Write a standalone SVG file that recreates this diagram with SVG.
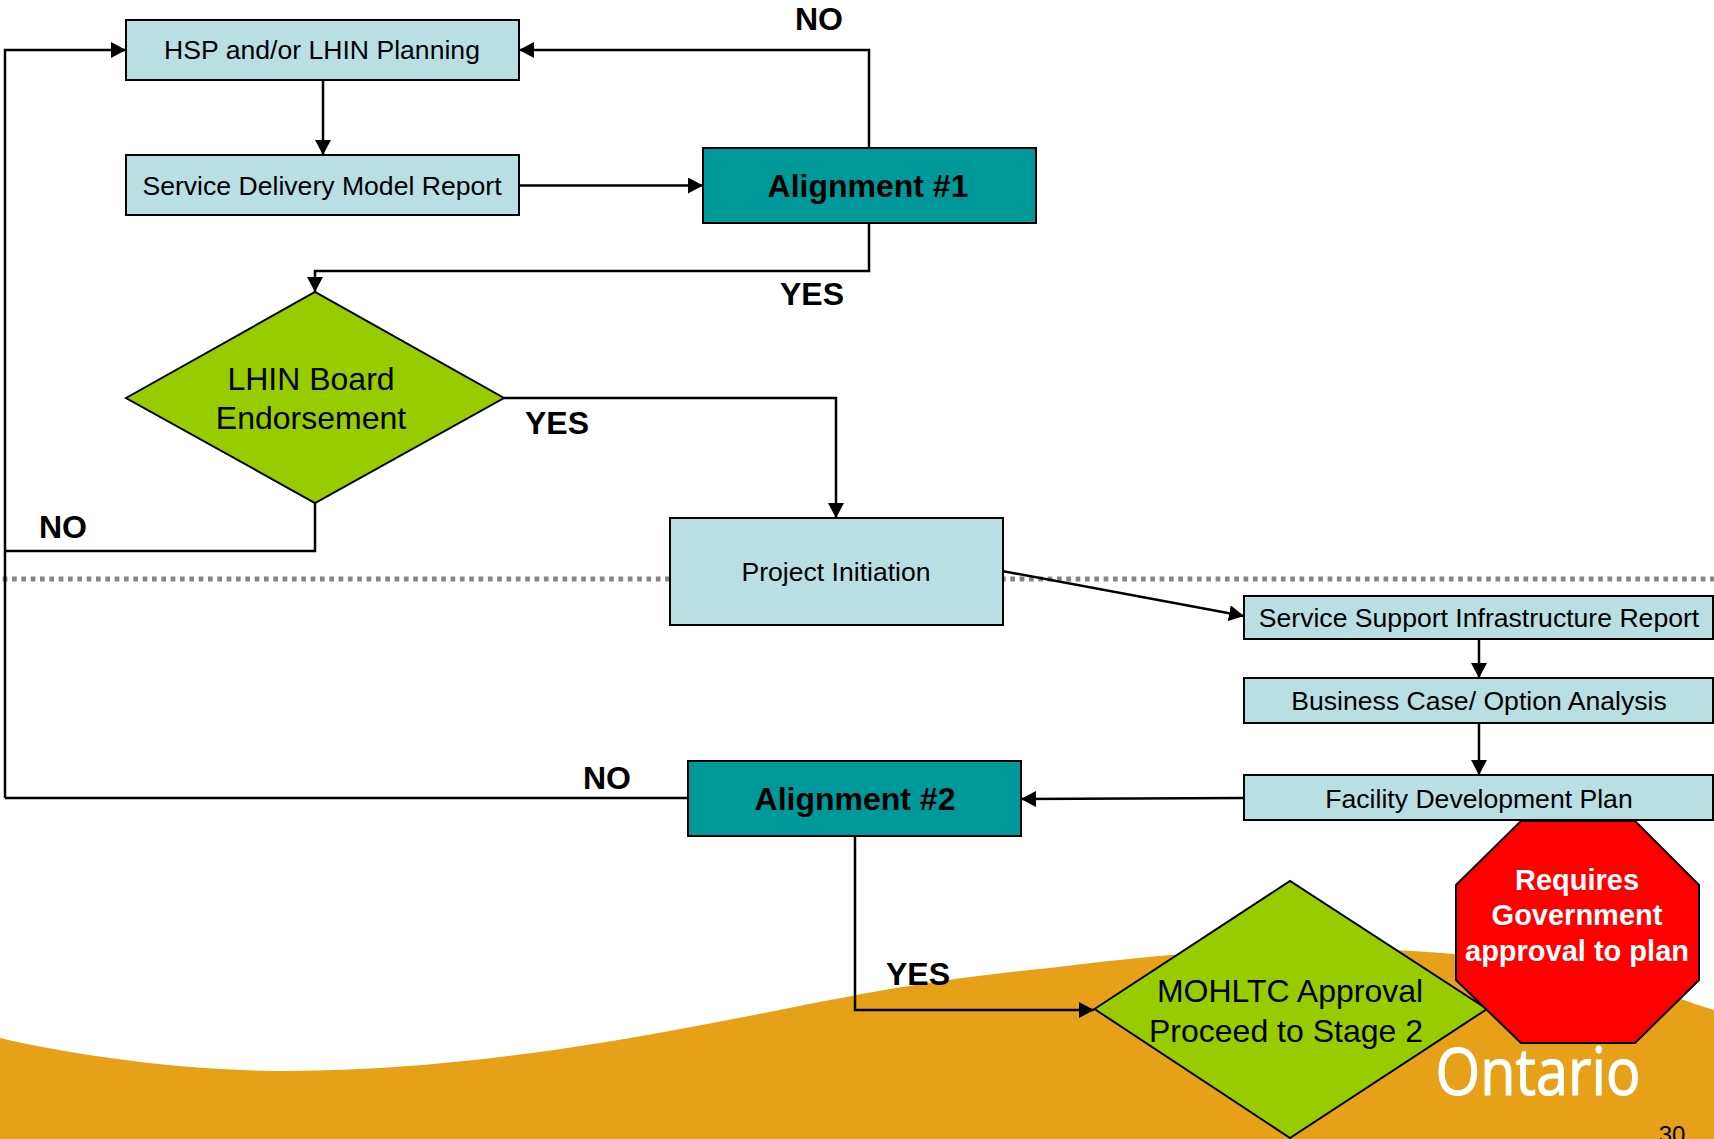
<svg xmlns="http://www.w3.org/2000/svg" width="1714" height="1139" viewBox="0 0 1714 1139">
<style>
text{font-family:"Liberation Sans",Arial,sans-serif;fill:#000}
.t{text-anchor:middle}
.box{fill:#b9dfe3;stroke:#000;stroke-width:2}
.al{fill:#009999;stroke:#000;stroke-width:2}
.dia{fill:#99cc00;stroke:#000;stroke-width:2}
.s{font-size:26.600px}
.b{font-size:32px;font-weight:700}
.d{font-size:32px}
.l{font-size:32px;font-weight:700}
.c{fill:none;stroke:#000;stroke-width:2.5}
</style>
<defs><marker id="a" markerUnits="userSpaceOnUse" markerWidth="16" markerHeight="16" refX="15" refY="8" orient="auto"><path d="M0 0L15 8L0 16Z" fill="#000"/></marker></defs>
<rect width="1714" height="1139" fill="#fff"/>
<path id="wave" d="M0 1038C60 1052 170 1071 290 1071C420 1071 560 1052 702 1025C800 1007 900 982 1050 968C1130 958 1200 951 1280 949C1400 946 1500 955 1600 975C1650 985 1680 1000 1714 1010V1139H0Z" fill="#e6a118"/>
<line id="divider" x1="2.700" y1="579" x2="1714" y2="579" stroke="#858585" stroke-width="5" stroke-dasharray="4.700 4.630"/>
<text x="1538" y="1095" font-size="66" class="t" textLength="205" lengthAdjust="spacingAndGlyphs" style="font-family:'Open Sans',sans-serif;fill:#fff;stroke:#fff;stroke-width:1.200">Ontario</text>
<text x="1672" y="1143" font-size="24" class="t">30</text>
<g id="connectors">
<path class="c" d="M323 80V155" marker-end="url(#a)"/>
<path class="c" d="M519 185.500H703" marker-end="url(#a)"/>
<path class="c" d="M869 148V50H519" marker-end="url(#a)"/>
<path class="c" d="M869 223V271H315V292" marker-end="url(#a)"/>
<path class="c" d="M504 398H836V518" marker-end="url(#a)"/>
<path class="c" d="M315 503V551H5"/>
<path class="c" d="M5 798V50H126" marker-end="url(#a)"/>
<path class="c" d="M1002 571L1244 616" marker-end="url(#a)"/>
<path class="c" d="M1479 639V678" marker-end="url(#a)"/>
<path class="c" d="M1479 723V775" marker-end="url(#a)"/>
<path class="c" d="M1244 798L1021 799" marker-end="url(#a)"/>
<path class="c" d="M688 798H5"/>
<path class="c" d="M855 836V1010H1094" marker-end="url(#a)"/>
</g>
<g id="hsp"><rect class="box" x="126" y="20" width="393" height="60"/><text class="t s" x="322" y="59">HSP and/or LHIN Planning</text></g>
<g id="sdm"><rect class="box" x="126" y="155" width="393" height="60"/><text class="t s" x="322" y="195">Service Delivery Model Report</text></g>
<g id="al1"><rect class="al" x="703" y="148" width="333" height="75"/><text class="t b" x="868" y="197">Alignment #1</text></g>
<g id="lhin"><polygon class="dia" points="126,398 315,292 504,398 315,503"/><text class="t d" x="311" y="390">LHIN Board</text><text class="t d" x="311" y="429">Endorsement</text></g>
<g id="pi"><rect class="box" x="670" y="518" width="333" height="107"/><text class="t s" x="836" y="581">Project Initiation</text></g>
<g id="ssi"><rect class="box" x="1244" y="596" width="469" height="43"/><text class="t s" x="1479" y="627">Service Support Infrastructure Report</text></g>
<g id="bc"><rect class="box" x="1244" y="678" width="469" height="45"/><text class="t s" x="1479" y="710">Business Case/ Option Analysis</text></g>
<g id="fdp"><rect class="box" x="1244" y="775" width="469" height="45"/><text class="t s" x="1479" y="808">Facility Development Plan</text></g>
<g id="al2"><rect class="al" x="688" y="761" width="333" height="75"/><text class="t b" x="855" y="810">Alignment #2</text></g>
<g id="mohltc"><polygon class="dia" points="1094.500,1009 1290,881 1487,1009 1290,1138"/><text class="t d" x="1290" y="1002">MOHLTC Approval</text><text class="t d" x="1286" y="1042">Proceed to Stage 2</text></g>
<g id="stop"><polygon fill="#ff0000" stroke="#000" stroke-width="2" points="1521,821 1635,821 1699,885 1699,980 1635,1043 1521,1043 1456,980 1456,885"/><text class="t" x="1577" y="890" font-size="29" font-weight="700" style="fill:#fff">Requires</text><text class="t" x="1577" y="925" font-size="29" font-weight="700" style="fill:#fff">Government</text><text class="t" x="1577" y="961" font-size="29" font-weight="700" style="fill:#fff">approval to plan</text></g>
<g id="labels">
<text class="l t" x="819" y="30">NO</text>
<text class="l t" x="812" y="305">YES</text>
<text class="l t" x="557" y="434">YES</text>
<text class="l t" x="63" y="538">NO</text>
<text class="l t" x="607" y="789">NO</text>
<text class="l t" x="918" y="985">YES</text>
</g>
</svg>
